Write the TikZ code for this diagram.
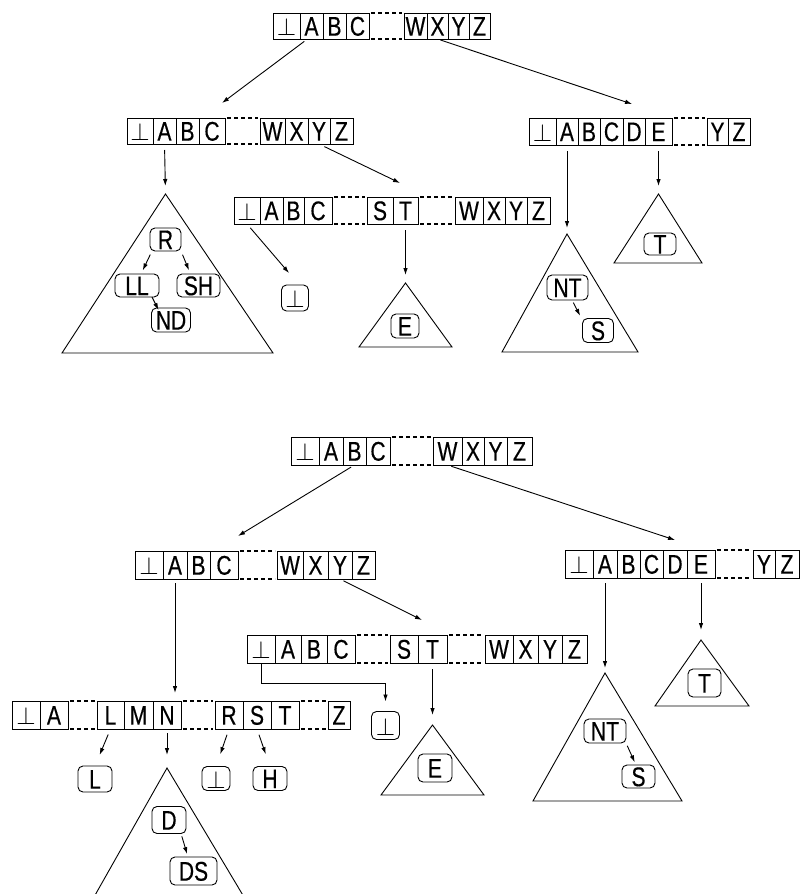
\documentclass[tikz,border=0pt]{standalone}
\usepackage{fontspec}
\setmainfont{Liberation Sans}[FakeStretch=0.78,FakeBold=0.4]
\usetikzlibrary{arrows.meta,calc}

\newcommand\cellfont{\fontsize{27}{28}\selectfont}

% a row of adjoining boxed cells: #1 name prefix, #2 left x, #3 centre y,
% #4 cell height, #5 list of text/width
\newcommand\cellrow[5]{%
  \coordinate (#10) at (#2,#3);
  \foreach \t/\w [count=\i] in {#5}{%
    \pgfmathtruncatemacro\j{\i-1}%
    \ifnum\i=1 \edef\prev{#10}\else\edef\prev{#1\j.east}\fi
    \node[cell, minimum width=\w pt, minimum height=#4pt, anchor=west] (#1\i) at (\prev) {\t};
  }%
}
% dotted top and bottom edges of an elided stretch between two cells
\newcommand\elide[2]{%
  \draw[dots] (#1.north east) -- (#2.north west);
  \draw[dots] (#1.south east) -- (#2.south west);
}

\tikzset{
  every path/.style={line width=0.9pt},
  cell/.style={draw, outer sep=0pt, inner sep=0pt, text height=19.3pt, text depth=0pt, font=\cellfont},
  lab/.style={draw, rounded corners=5pt, outer sep=0pt, inner sep=0pt, text height=19.3pt, text depth=0pt, font=\cellfont},
  dots/.style={line width=1.1pt, dash pattern=on 4pt off 3pt, shorten <=2pt, shorten >=2pt},
  arr/.style={-{Latex[length=7pt,width=4.5pt]}},
  tri/.style={line join=miter}
}

\begin{document}
\begin{tikzpicture}[x=1pt,y=1pt]
\useasboundingbox (0,0) rectangle (800,-894);

%%%%%%%%%%%%%%%% first tree %%%%%%%%%%%%%%%%
\cellrow{uta}{273}{-26}{26}{$\perp$/27,A/23,B/23,C/23}
\cellrow{utb}{404}{-26}{26}{W/23,X/21,Y/21,Z/21}
\elide{uta4}{utb1}

\cellrow{ula}{127}{-131}{26}{$\perp$/26,A/23,B/23,C/26}
\cellrow{ulb}{260}{-131}{26}{W/25,X/23,Y/22,Z/23}
\elide{ula4}{ulb1}

\cellrow{ura}{529}{-131.5}{27}{$\perp$/27,A/22,B/22,C/23,D/22,E/27}
\cellrow{urb}{707}{-131.5}{27}{Y/21,Z/22}
\elide{ura6}{urb1}

\cellrow{uma}{234}{-210.5}{27}{$\perp$/26,A/23,B/21,C/28}
\cellrow{umb}{367}{-210.5}{27}{S/26,T/25}
\cellrow{umc}{455}{-210.5}{27}{W/28,X/22,Y/22,Z/23}
\elide{uma4}{umb1}
\elide{umb2}{umc1}

% subtrees
\coordinate (uL1) at (165.5,-194);
\draw[tri] (uL1) -- (62,-353) -- (273,-353) -- cycle;
\coordinate (uE1) at (405.5,-283);
\draw[tri] (uE1) -- (359,-347) -- (452,-347) -- cycle;
\coordinate (uN1) at (567,-234);
\draw[tri] (uN1) -- (502,-352) -- (638,-352) -- cycle;
\coordinate (uT1) at (658.5,-194);
\draw[tri] (uT1) -- (614,-263) -- (702,-263) -- cycle;

\node[lab, minimum width=31pt, minimum height=23pt] (uR) at (165.5,-239.5) {R};
\node[lab, minimum width=44pt, minimum height=23pt] (uLL) at (137,-285.5) {LL};
\node[lab, minimum width=43pt, minimum height=23pt] (uSH) at (198.5,-285.5) {SH};
\node[lab, minimum width=39pt, minimum height=24pt] (uND) at (171,-320) {ND};
\node[lab, minimum width=27pt, minimum height=26pt] (ubot) at (295,-298) {$\perp$};
\node[lab, minimum width=28pt, minimum height=24pt] (uE) at (405,-326) {E};
\node[lab, minimum width=41pt, minimum height=25pt] (uNT) at (567.5,-287.5) {NT};
\node[lab, minimum width=31pt, minimum height=24pt] (uS) at (598,-330.5) {S};
\node[lab, minimum width=32pt, minimum height=22pt] (uT) at (660,-244) {T};

% pointers
\draw[arr, shorten <=4pt] ([xshift=-4pt]uta2.south) -- ([xshift=-3pt,yshift=15pt]ula4.north east);
\draw[arr, shorten <=3pt] (utb2.south) -- ([xshift=-2pt,yshift=14pt]ura5.north);
\draw[arr, shorten <=6pt, shorten >=8pt] (ula2.south) -- (uL1);
\draw[arr, shorten <=6pt] (ulb3.south) -- ([xshift=7pt,yshift=14pt]umb1.north east);
\draw[arr, shorten <=5pt] (uma1.south) -- ($(ubot.north)+(-6,12)$);
\draw[arr, shorten <=6pt, shorten >=8pt] (umb2.south) -- (uE1);
\draw[arr, shorten <=6pt, shorten >=6pt] (ura2.south) -- (uN1);
\draw[arr, shorten <=6pt, shorten >=8pt] (ura6.south) -- (uT1);

\draw[arr, shorten <=4pt, shorten >=4pt] ([xshift=2pt]uR.south west) -- ([xshift=4pt]uLL.north);
\draw[arr, shorten <=4pt, shorten >=4pt] (uR.south east) -- ([xshift=-8pt]uSH.north);
\draw[arr] ([xshift=-7pt]uLL.south east) -- ([xshift=7pt,yshift=-2pt]uND.north west);
\draw[arr, shorten <=3pt, shorten >=3pt] ([xshift=-16pt]uNT.south east) -- ([xshift=-1pt]uS.north west);

%%%%%%%%%%%%%%%% second tree %%%%%%%%%%%%%%%%
\cellrow{lta}{291}{-451}{28}{$\perp$/28,A/24,B/23,C/24}
\cellrow{ltb}{433}{-451}{28}{W/29,X/22,Y/23,Z/25}
\elide{lta4}{ltb1}

\cellrow{lla}{135}{-565}{28}{$\perp$/28,A/24,B/23,C/28}
\cellrow{llb}{277}{-565}{28}{W/26,X/25,Y/24,Z/23}
\elide{lla4}{llb1}

\cellrow{lra}{565}{-564}{28}{$\perp$/28,A/24,B/23,C/23,D/24,E/28}
\cellrow{lrb}{753}{-564}{28}{Y/22,Z/24}
\elide{lra6}{lrb1}

\cellrow{lma}{247}{-649}{28}{$\perp$/28,A/26,B/26,C/28}
\cellrow{lmb}{390}{-649}{28}{S/28,T/29}
\cellrow{lmc}{485}{-649}{28}{W/28,X/25,Y/24,Z/25}
\elide{lma4}{lmb1}
\elide{lmb2}{lmc1}

\cellrow{lba}{12}{-715}{28}{$\perp$/28,A/28}
\cellrow{lbb}{97}{-715}{28}{L/27,M/29,N/28}
\cellrow{lbc}{215}{-715}{28}{R/28,S/28,T/28}
\cellrow{lbd}{328}{-715}{28}{Z/22}
\elide{lba2}{lbb1}
\elide{lbb3}{lbc1}
\elide{lbc3}{lbd1}

% subtrees
\coordinate (lE1) at (432.5,-725);
\draw[tri] (lE1) -- (381,-795) -- (484,-795) -- cycle;
\coordinate (lT1) at (701,-640);
\draw[tri] (lT1) -- (655,-706) -- (749,-706) -- cycle;
\coordinate (lN1) at (605,-673);
\draw[tri] (lN1) -- (533,-801) -- (682,-801) -- cycle;
\coordinate (lD1) at (167,-768);
\draw[tri] (lD1) -- (94,-897) -- (244,-897) -- cycle;

\node[lab, minimum width=34pt, minimum height=28pt] (lE) at (435,-768) {E};
\node[lab, minimum width=28pt, minimum height=28pt] (lbot) at (385.5,-725.5) {$\perp$};
\node[lab, minimum width=33pt, minimum height=28pt] (lT) at (704.5,-683) {T};
\node[lab, minimum width=42pt, minimum height=24pt] (lNT) at (605,-731) {NT};
\node[lab, minimum width=33pt, minimum height=23pt] (lS) at (638.5,-776.5) {S};
\node[lab, minimum width=34pt, minimum height=26pt] (lL) at (95,-779) {L};
\node[lab, minimum width=28pt, minimum height=24pt] (lbot2) at (216,-778.5) {$\perp$};
\node[lab, minimum width=34pt, minimum height=24pt] (lH) at (270,-778.5) {H};
\node[lab, minimum width=34pt, minimum height=27pt] (lD) at (169,-820) {D};
\node[lab, minimum width=47pt, minimum height=28pt] (lDS) at (193.5,-871) {DS};

% pointers
\draw[arr, shorten <=4pt] (lta3.south) -- ([yshift=15pt]lla4.north east);
\draw[arr, shorten <=4pt] (ltb1.south) -- ([yshift=10pt]lra5.north);
\draw[arr, shorten <=4pt, shorten >=8pt] (lla2.south) -- (lla2.south |- lbb3.north);
\draw[arr, shorten <=4pt] (llb3.south) -- ([xshift=4pt,yshift=15pt]lmb2.north west);
\draw[arr, shorten >=10pt] (lma1.south) -- ++(0,-20) -| (lbot.north);
\draw[arr, shorten <=6pt, shorten >=10pt] (lmb2.south) -- (lE1);
\draw[arr, shorten <=5pt, shorten >=5pt] (lra2.south) -- (lN1);
\draw[arr, shorten <=5pt, shorten >=10pt] (lra6.south) -- (lT1);

\draw[arr, shorten <=6pt, shorten >=12pt] (lbb1.south) -- (lL.north);
\draw[arr, shorten <=4pt, shorten >=13pt] (lbb3.south) -- (lD1);
\draw[arr, shorten <=6pt, shorten >=13pt] (lbc1.south) -- (lbot2.north);
\draw[arr, shorten <=6pt, shorten >=13pt] (lbc2.south) -- (lH.north);

\draw[arr, shorten <=3pt, shorten >=3pt] (lNT.south east) -- ([xshift=14pt]lS.north west);
\draw[arr, shorten <=3pt, shorten >=3pt] ([xshift=-5pt]lD.south east) -- ([xshift=18pt]lDS.north west);
\end{tikzpicture}
\end{document}
